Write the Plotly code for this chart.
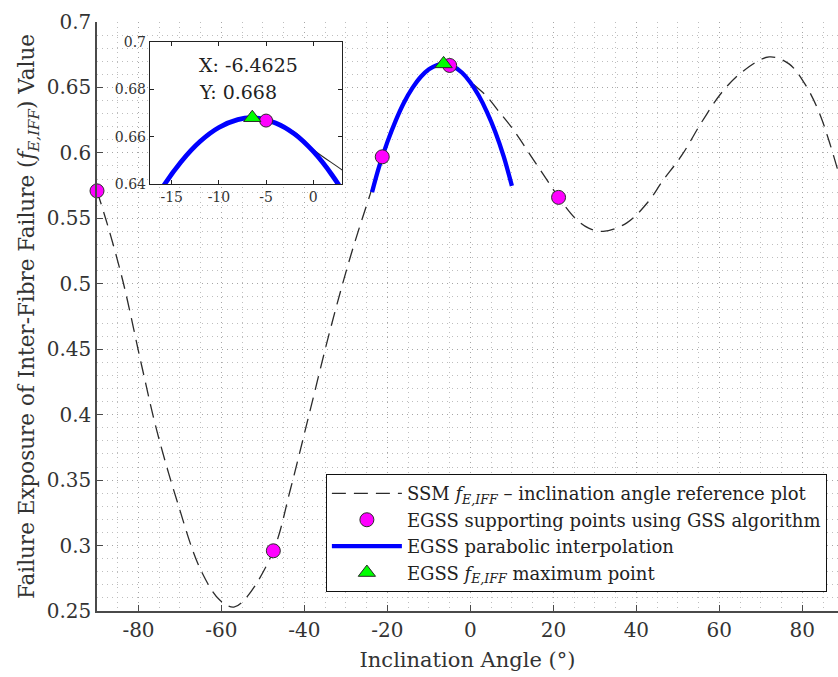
import plotly.graph_objects as go

# --- data -------------------------------------------------------------
# SSM reference curve: failure exposure vs. inclination angle
ssm_angle = [-90, -87.0, -83.6, -79.2, -75.6, -70.7, -65.1, -60.3, -57.0,
             -53.8, -47.5, -43.3, -38.5, -33.7, -28.8, -24.0, -21.25, -16, -12,
             -8, -6.5, -5, -2, 0.2, 3.9, 6.5, 10.3, 15.2, 18.4, 21.25, 25.6, 28.5,
             32.0, 37.7, 42.9, 46.2, 51.0, 55.8, 60.7, 65.5, 72.0, 76.8, 80.8,
             84.0, 86.5, 88.9, 90]
ssm_value = [0.571, 0.540, 0.500, 0.437, 0.388, 0.334, 0.282, 0.258, 0.253,
             0.261, 0.296, 0.344, 0.405, 0.466, 0.522, 0.570, 0.597, 0.638, 0.658,
             0.6672, 0.668, 0.6668, 0.662, 0.654, 0.6434, 0.633, 0.6179, 0.5947,
             0.5796, 0.566, 0.549, 0.5425, 0.540, 0.5465, 0.5628, 0.578, 0.5984,
             0.6238, 0.6466, 0.6619, 0.6733, 0.668, 0.6517, 0.6314, 0.6085,
             0.583, 0.571]

# golden-section supporting points
gss_angle = [-90, 90, 21.25, -21.25, -47.5, -5.0]
gss_value = [0.571, 0.571, 0.566, 0.597, 0.296, 0.6668]

# parabolic interpolation through the bracketing points
par_angle = [-23.7, -22, -20, -18, -16, -14, -12, -10, -8, -6.4625, -4, -2,
             0, 2, 4, 6, 8, 10]
par_value = [0.570, 0.5895, 0.6084, 0.6247, 0.6385, 0.6495, 0.6580, 0.6639,
             0.6672, 0.668, 0.6658, 0.6612, 0.6538, 0.6438, 0.6312, 0.6160,
             0.5975, 0.5748]

# maximum of the parabola
max_angle = [-6.4625]
max_value = [0.668]

x_ticks = [-80, -60, -40, -20, 0, 20, 40, 60, 80]
x_ticktext = ["-80", "-60", "-40", "-20", "0", "20", "40", "60", "80"]
y_ticks = [0.25, 0.3, 0.35, 0.4, 0.45, 0.5, 0.55, 0.6, 0.65, 0.7]
y_ticktext = ["0.25", "0.3", "0.35", "0.4", "0.45", "0.5", "0.55", "0.6", "0.65", "0.7"]

zoom_x_ticks = [-15, -10, -5, 0]
zoom_x_ticktext = ["-15", "-10", "-5", "0"]
zoom_y_ticks = [0.64, 0.66, 0.68, 0.7]
zoom_y_ticktext = ["0.64", "0.66", "0.68", "0.7"]

# --- styling ----------------------------------------------------------
FONT = "DejaVu Serif"
TXT = "#333333"
AX = "#4a4a4a"
F_SYM = "<i>f</i><sub><i>E,IFF</i></sub>"

fig = go.Figure()

# main axes
fig.add_trace(go.Scatter(
    x=ssm_angle, y=ssm_value, mode="lines", line_shape="spline",
    line=dict(color="#2b2b2b", width=1.3, dash="14px,8px"),
    name=f"SSM {F_SYM} – inclination angle reference plot",
    legendrank=1, xaxis="x", yaxis="y"))
fig.add_trace(go.Scatter(
    x=par_angle, y=par_value, mode="lines", line_shape="spline",
    line=dict(color="#0000ff", width=4.3),
    name="EGSS parabolic interpolation", legendrank=3,
    xaxis="x", yaxis="y"))
fig.add_trace(go.Scatter(
    x=gss_angle, y=gss_value, mode="markers",
    marker=dict(symbol="circle", size=14, color="#ff00ff",
                line=dict(color="#2b2b2b", width=1)),
    name="EGSS supporting points using GSS algorithm", legendrank=2,
    cliponaxis=False, xaxis="x", yaxis="y"))
fig.add_trace(go.Scatter(
    x=max_angle, y=max_value, mode="markers",
    marker=dict(symbol="triangle-up", size=15, color="#00ff00",
                line=dict(color="#2b2b2b", width=1)),
    name=f"EGSS {F_SYM} maximum point", legendrank=4,
    xaxis="x", yaxis="y"))

# zoomed view around the maximum
fig.add_trace(go.Scatter(
    x=ssm_angle, y=ssm_value, mode="lines", line_shape="spline",
    line=dict(color="#2b2b2b", width=1.1),
    showlegend=False, xaxis="x2", yaxis="y2"))
fig.add_trace(go.Scatter(
    x=par_angle, y=par_value, mode="lines", line_shape="spline",
    line=dict(color="#0000ff", width=4.8),
    showlegend=False, xaxis="x2", yaxis="y2"))
fig.add_trace(go.Scatter(
    x=gss_angle, y=gss_value, mode="markers",
    marker=dict(symbol="circle", size=13, color="#ff00ff",
                line=dict(color="#2b2b2b", width=1)),
    showlegend=False, xaxis="x2", yaxis="y2"))
fig.add_trace(go.Scatter(
    x=max_angle, y=max_value, mode="markers",
    marker=dict(symbol="triangle-up", size=15, color="#00ff00",
                line=dict(color="#2b2b2b", width=1)),
    showlegend=False, xaxis="x2", yaxis="y2"))

grid_major = "#a6a6a6"
grid_minor = "#bebebe"
GRID_DASH = "1px,4px"

fig.update_layout(
    width=838, height=677,
    margin=dict(l=97, r=0, t=22, b=66),
    paper_bgcolor="white", plot_bgcolor="white",
    font=dict(family=FONT, color=TXT, size=18),
    xaxis=dict(
        domain=[0, 1], range=[-90, 88.6],
        tickvals=x_ticks, ticktext=x_ticktext,
        ticks="inside", ticklen=6, tickcolor=AX, tickwidth=1,
        showline=True, linecolor=AX, linewidth=1.5,
        showgrid=True, gridcolor=grid_major, griddash=GRID_DASH, gridwidth=1,
        minor=dict(dtick=5, tick0=0, showgrid=True, gridcolor=grid_minor,
                   griddash=GRID_DASH, gridwidth=1),
        zeroline=False, tickfont=dict(size=20, color=TXT),
        title=dict(text="Inclination Angle (°)", font=dict(size=21, color=TXT),
                   standoff=12),
    ),
    yaxis=dict(
        domain=[0, 1], range=[0.25, 0.7],
        tickvals=y_ticks, ticktext=y_ticktext,
        ticks="inside", ticklen=6, tickcolor=AX, tickwidth=1,
        showline=True, linecolor=AX, linewidth=1.5,
        showgrid=True, gridcolor=grid_major, griddash=GRID_DASH, gridwidth=1,
        minor=dict(dtick=0.01, tick0=0, showgrid=True, gridcolor=grid_minor,
                   griddash=GRID_DASH, gridwidth=1),
        zeroline=False, tickfont=dict(size=20, color=TXT),
        title=dict(text=f"Failure Exposure of Inter-Fibre Failure ({F_SYM}) Value",
                   font=dict(size=21.5, color=TXT), standoff=6),
    ),
    xaxis2=dict(
        domain=[0.0715, 0.331], anchor="y2", range=[-17.3, 3.07],
        tickvals=zoom_x_ticks, ticktext=zoom_x_ticktext,
        ticks="inside", ticklen=4, tickcolor="#222", mirror="ticks",
        showline=True, linecolor="#222", linewidth=1.3,
        showgrid=False, zeroline=False,
        tickfont=dict(size=14, color=TXT),
    ),
    yaxis2=dict(
        domain=[0.7245, 0.9666], anchor="x2", range=[0.64, 0.7],
        tickvals=zoom_y_ticks, ticktext=zoom_y_ticktext,
        ticks="inside", ticklen=4, tickcolor="#222", mirror="ticks",
        showline=True, linecolor="#222", linewidth=1.3,
        showgrid=False, zeroline=False,
        tickfont=dict(size=14, color=TXT),
    ),
    legend=dict(
        x=0.985, y=0.032, xanchor="right", yanchor="bottom",
        bgcolor="white", bordercolor="#111", borderwidth=1,
        font=dict(size=18, color="#222"), itemwidth=70,
        traceorder="normal",
    ),
    shapes=[dict(type="rect", xref="x2 domain", yref="y2 domain",
                 x0=0, x1=1, y0=0, y1=1, fillcolor="white",
                 line=dict(width=0), layer="below")],
    annotations=[
        dict(x=-12.3, y=0.6900, xref="x2", yref="y2", text="X: -6.4625",
             showarrow=False, xanchor="left", yanchor="middle",
             font=dict(size=19, color="#222")),
        dict(x=-12.3, y=0.6787, xref="x2", yref="y2", text="Y: 0.668",
             showarrow=False, xanchor="left", yanchor="middle",
             font=dict(size=19, color="#222")),
    ],
)

fig.write_html("out.html")
